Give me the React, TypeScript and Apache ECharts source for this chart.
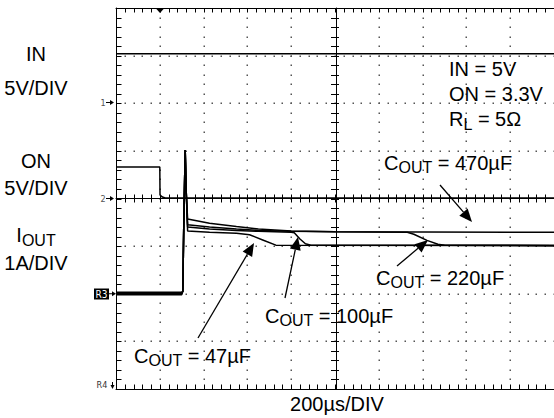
import { useEffect, useRef } from "react";
import * as echarts from "echarts";

// Time axis (µs), 200 µs/div, trigger at 0
const X_MIN = -200;
const X_MAX = 1800;
const X_STEP = 200;
const X_CENTER = 800;
// Vertical: 8 divisions
const Y_MIN = 0;
const Y_MAX = 8;
const Y_CENTER = 4;
const MINOR_PER_DIV = 5;

// Channel 1: IN (V), 5 V/div, ground marker at div 6
const IN_TRACE: [number, number][] = [[-200, 5.2], [600, 5.2], [1800, 5.2]];
// Channel 2: ON (V), 5 V/div, ground marker at div 4
const ON_TRACE: [number, number][] = [[-200, 3.3], [0, 3.3], [1, 0.37], [12, 0.15], [25, 0.05], [1800, 0.05]];
// Channel R3: IOUT (A), 1 A/div, zero at div 2
const IOUT_RISE: [number, number][] = [[105, 0.05], [110, 1.6], [116, 3.02], [121, 2.1]];
const IOUT_470: [number, number][] = [[-200, 0.02], [100, 0.02], [127, 1.57], [227, 1.48], [350, 1.41], [450, 1.36], [600, 1.32], [800, 1.3], [1800, 1.29]];
const IOUT_220: [number, number][] = [[-200, -0.02], [100, -0.02], [127, 1.45], [227, 1.4], [350, 1.36], [450, 1.33], [600, 1.31], [800, 1.3], [1130, 1.29], [1160, 1.25], [1220, 1.12], [1270, 1.04], [1300, 1.02], [1800, 1.01]];
const IOUT_100: [number, number][] = [[-200, 0.03], [100, 0.03], [127, 1.4], [227, 1.36], [350, 1.33], [450, 1.31], [600, 1.29], [614, 1.28], [640, 1.15], [665, 1.05], [690, 1.02], [1800, 1.02]];
const IOUT_47: [number, number][] = [[-200, 0], [100, 0], [127, 1.32], [227, 1.29], [350, 1.27], [410, 1.24], [470, 1.13], [530, 1.02], [1800, 1.01]];

const FONT = "'Liberation Sans', Arial, Helvetica, sans-serif";
const NARROW = "'Liberation Sans Narrow', 'DejaVu Sans Condensed', sans-serif";

const toDiv = (arr: [number, number][], offset: number, perDiv: number) =>
  arr.map(([t, v]) => [t, offset + v / perDiv]);

const ioutSeries = (trace: [number, number][]) => {
  const pre = trace.filter((p) => p[0] <= 100);
  const post = trace.filter((p) => p[0] > 100);
  return toDiv([...pre, ...IOUT_RISE, ...post], 2, 1);
};

// minor graticule positions (1/5 division)
const X_MINOR: number[] = [];
for (let i = 0; i <= ((X_MAX - X_MIN) / X_STEP) * MINOR_PER_DIV; i++) X_MINOR.push(X_MIN + (i * X_STEP) / MINOR_PER_DIV);
const Y_MINOR: number[] = [];
for (let i = 0; i <= (Y_MAX - Y_MIN) * MINOR_PER_DIV; i++) Y_MINOR.push(Y_MIN + i / MINOR_PER_DIV);
const X_MAJOR = X_MINOR.filter((_, i) => i % MINOR_PER_DIV === 0);
const Y_MAJOR = Y_MINOR.filter((_, i) => i % MINOR_PER_DIV === 0);

const buildGraticule = (c: (x: number, y: number) => number[]) => {
  const children: any[] = [];
  const tl = (x1: number, y1: number, x2: number, y2: number) =>
    children.push({ type: "line", silent: true, shape: { x1, y1, x2, y2 }, style: { stroke: "#000", lineWidth: 1 } });
  const dot = (x: number, y: number) =>
    children.push({ type: "rect", silent: true, shape: { x: Math.round(x) - 0.5, y: Math.round(y) - 0.5, width: 1.5, height: 1.5 }, style: { fill: "#555" } });
  const yTop = c(X_MIN, Y_MAX)[1];
  const yBot = c(X_MIN, Y_MIN)[1];
  const yMid = c(X_MIN, Y_CENTER)[1];
  const xLeft = c(X_MIN, 0)[0];
  const xMid = c(X_CENTER, 0)[0];
  for (const xv of X_MAJOR) {
    if (xv === X_MIN || xv === X_CENTER || xv === X_MAX) continue;
    for (const yv of Y_MINOR) {
      if (yv === Y_MIN || yv === Y_MAX) continue;
      const p = c(xv, yv);
      dot(p[0], p[1]);
    }
  }
  for (const yv of Y_MAJOR) {
    if (yv === Y_MIN || yv === Y_CENTER || yv === Y_MAX) continue;
    for (const xv of X_MINOR) {
      if (xv === X_MIN) continue;
      const p = c(xv, yv);
      dot(p[0], p[1]);
    }
  }
  for (const xv of X_MINOR) {
    if (xv === X_MIN) continue;
    const px = Math.round(c(xv, 0)[0]) + 0.5;
    tl(px, yTop, px, yTop + 4.5);
    tl(px, yBot - 4.5, px, yBot);
    tl(px, yMid - 4, px, yMid + 4);
  }
  for (const yv of Y_MINOR) {
    if (yv === Y_MIN || yv === Y_MAX) continue;
    const py = Math.round(c(0, yv)[1]) + 0.5;
    tl(xLeft, py, xLeft + 5.5, py);
    tl(xMid - 4, py, xMid + 4, py);
  }
  return { type: "group", silent: true, z: 1, children };
};

const line = (data: number[][], width = 1.5) => ({
  type: "line",
  xAxisIndex: 0,
  yAxisIndex: 0,
  data,
  showSymbol: false,
  silent: true,
  z: 3,
  lineStyle: { color: "#000", width },
});

const axLine = { show: true, onZero: false, lineStyle: { color: "#000", width: 1 } };
const noTick = { show: false };
const xBase = { type: "value", min: X_MIN, max: X_MAX, interval: X_STEP, axisLabel: { show: false }, axisTick: noTick, splitLine: { show: false } };
const yBase = { type: "value", min: Y_MIN, max: Y_MAX, interval: 1, axisLabel: { show: false }, axisTick: noTick, splitLine: { show: false } };

const rich = (main: string, sub: string, rest: string, size = 20) => ({
  text: `{n|${main}}{s|${sub}}{n|${rest}}`,
  fill: "#000",
  fontFamily: FONT,
  fontSize: size,
  rich: {
    n: { fontSize: size, lineHeight: 26, fontFamily: FONT, fill: "#000" },
    s: { fontSize: 16, lineHeight: 16, verticalAlign: "bottom", fontFamily: FONT, fill: "#000" },
  },
});

const label = (x: number, y: number, style: any, align = "left") => ({
  type: "text",
  x,
  y,
  silent: true,
  z: 100,
  style: { align, verticalAlign: "middle", ...style },
});

const plain = (x: number, y: number, text: string, align = "left", size = 20) =>
  label(x, y, { text, fill: "#000", fontFamily: FONT, fontSize: size }, align);

const arrow = (x1: number, y1: number, x2: number, y2: number) => {
  const dx = x2 - x1;
  const dy = y2 - y1;
  const L = Math.hypot(dx, dy);
  const ux = dx / L;
  const uy = dy / L;
  const hl = 13;
  const hw = 5.5;
  const bx = x2 - ux * hl;
  const by = y2 - uy * hl;
  return {
    type: "group",
    silent: true,
    z: 100,
    children: [
      { type: "line", z: 100, shape: { x1, y1, x2: bx, y2: by }, style: { stroke: "#000", lineWidth: 1.3 } },
      {
        type: "polygon",
        z: 100,
        shape: { points: [[x2, y2], [bx - uy * hw, by + ux * hw], [bx + uy * hw, by - ux * hw]] },
        style: { fill: "#000" },
      },
    ],
  };
};

const smallArrowRight = (x: number, y: number) => ({
  type: "group",
  silent: true,
  children: [
    { type: "line", shape: { x1: x, y1: y, x2: x + 5, y2: y }, style: { stroke: "#000", lineWidth: 1 } },
    { type: "polygon", shape: { points: [[x + 4, y - 2.5], [x + 8, y], [x + 4, y + 2.5]] }, style: { fill: "#000" } },
  ],
});

const annotations = [
  plain(36, 54, "IN", "center"),
  plain(36, 87.5, "5V/DIV", "center"),
  plain(36, 160.5, "ON", "center"),
  plain(36, 187.5, "5V/DIV", "center"),
  label(36, 235, rich("I", "OUT", ""), "center"),
  plain(36, 262.5, "1A/DIV", "center"),
  plain(449, 69, "IN = 5V"),
  plain(449, 94, "ON = 3.3V"),
  label(449, 119, rich("R", "L", " = 5Ω")),
  label(384, 162.5, rich("C", "OUT", " = 470µF")),
  label(376, 277.5, rich("C", "OUT", " = 220µF")),
  label(265, 315.5, rich("C", "OUT", " = 100µF")),
  label(134, 355.5, rich("C", "OUT", " = 47µF")),
  plain(337, 403.5, "200µs/DIV", "center"),
  arrow(440, 185, 472, 222),
  arrow(397, 266, 428, 240),
  arrow(285, 298, 298, 237),
  arrow(198, 338, 254, 243),
  { type: "polygon", silent: true, shape: { points: [[155.5, 8], [164.5, 8], [160, 13]] }, style: { fill: "#000" } },
  label(103, 102.5, { text: "1", fill: "#555", fontFamily: NARROW, fontSize: 9 }, "center"),
  smallArrowRight(106, 102.5),
  label(103, 198.5, { text: "2", fill: "#555", fontFamily: NARROW, fontSize: 9 }, "center"),
  smallArrowRight(106, 198.5),
  { type: "rect", silent: true, shape: { x: 94, y: 288.5, width: 15, height: 11 }, style: { fill: "#000" } },
  label(101.5, 294, { text: "R3", fill: "#fff", fontFamily: NARROW, fontSize: 10 }, "center"),
  smallArrowRight(108, 293.75),
  label(102, 385, { text: "R4", fill: "#333", fontFamily: NARROW, fontSize: 9 }, "center"),
  { type: "line", silent: true, shape: { x1: 112.5, y1: 382, x2: 112.5, y2: 387 }, style: { stroke: "#000", lineWidth: 1 } },
  { type: "polygon", silent: true, shape: { points: [[110.5, 385], [114.5, 385], [112.5, 389]] }, style: { fill: "#000" } },
];

export default function App() {
  const ref = useRef<HTMLDivElement>(null);
  useEffect(() => {
    const chart = echarts.init(ref.current!, undefined, { renderer: "svg" });
    const option: any = {
      animation: false,
      backgroundColor: "#fff",
      grid: [
        { left: 116, top: 8, width: 440, height: 381 },
        { left: 116, top: 8, width: 440, height: 190.5 },
        { left: 116, top: 8, width: 220, height: 381 },
      ],
      xAxis: [
        { ...xBase, gridIndex: 0, position: "bottom", axisLine: axLine },
        { ...xBase, gridIndex: 0, position: "top", axisLine: axLine },
        { ...xBase, gridIndex: 1, position: "bottom", axisLine: axLine },
        { ...xBase, gridIndex: 2, show: false },
      ],
      yAxis: [
        { ...yBase, gridIndex: 0, position: "left", axisLine: axLine },
        { ...yBase, gridIndex: 1, show: false },
        { ...yBase, gridIndex: 2, position: "right", axisLine: axLine },
      ],
      series: [
        line(toDiv(IN_TRACE, 6, 5), 1.6),
        line(toDiv(ON_TRACE, 4, 5), 1.5),
        line(ioutSeries(IOUT_470)),
        line(ioutSeries(IOUT_220)),
        line(ioutSeries(IOUT_100)),
        line(ioutSeries(IOUT_47)),
      ],
    };
    chart.setOption(option);
    const toPx = (x: number, y: number) =>
      chart.convertToPixel({ xAxisIndex: 0, yAxisIndex: 0 }, [x, y]) as unknown as number[];
    chart.setOption({ graphic: [buildGraticule(toPx), ...annotations] });
    return () => chart.dispose();
  }, []);
  return (
    <div
      ref={ref}
      style={{ position: "absolute", left: 0, top: 0, width: 554, height: 418, background: "#fff" }}
    />
  );
}
